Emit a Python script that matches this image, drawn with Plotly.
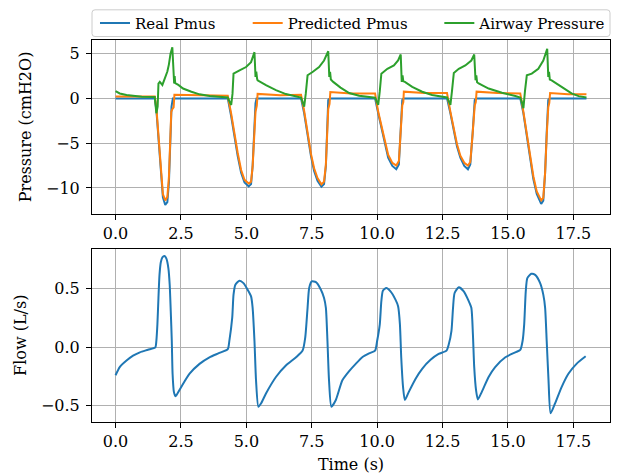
import plotly.graph_objects as go

# ---- Muscle pressure (Pmus) and airway pressure, cmH2O ----
t_real = [0.00, 1.50, 1.56, 1.62, 1.69, 1.75, 1.81, 1.90, 1.98, 2.04, 2.09, 2.14, 2.19,
          4.29, 4.42, 4.54, 4.67, 4.80, 4.93, 5.09, 5.18, 5.24, 5.30, 5.35, 5.39,
          7.09, 7.21, 7.34, 7.47, 7.59, 7.72, 7.87, 7.97, 8.04, 8.08, 8.13, 8.19,
          9.92, 10.04, 10.17, 10.30, 10.42, 10.58, 10.73, 10.83, 10.90, 10.96, 11.01,
          12.67, 12.80, 12.93, 13.05, 13.18, 13.33, 13.47, 13.56, 13.65, 13.73, 13.78,
          15.47, 15.59, 15.72, 15.85, 15.97, 16.10, 16.27, 16.35, 16.42, 16.48, 16.54, 16.59, 18.00]
real_pmus = [0.0, 0.0, -1.29, -3.87, -6.80, -9.20, -11.05, -11.90, -11.60, -9.40, -4.97, -0.92, 0.0,
             0.0, -2.00, -4.20, -6.45, -8.30, -9.40, -9.83, -9.58, -7.55, -3.87, -0.55, 0.0,
             0.0, -1.66, -4.24, -6.45, -8.10, -9.20, -9.87, -9.58, -7.55, -3.87, -0.18, 0.0,
             0.0, -1.66, -3.50, -5.34, -6.63, -7.55, -7.92, -7.37, -3.87, -0.18, 0.0,
             0.0, -1.66, -3.50, -5.34, -6.63, -7.55, -7.92, -7.37, -3.87, -0.18, 0.0,
             0.0, -1.66, -4.24, -6.80, -9.02, -10.68, -11.79, -11.42, -8.29, -3.87, -0.18, 0.0, 0.0]

t_pred = [0.00, 0.60, 1.10, 1.50, 1.56, 1.62, 1.69, 1.75, 1.81, 1.90, 1.98, 2.04, 2.09, 2.13, 2.17, 2.22, 2.25, 3.20,
          4.29, 4.42, 4.54, 4.67, 4.80, 4.93, 5.09, 5.18, 5.24, 5.30, 5.35, 5.40, 5.43, 6.30,
          7.09, 7.21, 7.34, 7.47, 7.59, 7.72, 7.87, 7.97, 8.04, 8.08, 8.13, 8.18, 8.21, 9.00,
          9.92, 10.04, 10.17, 10.30, 10.42, 10.58, 10.73, 10.83, 10.90, 10.96, 11.00, 11.02, 11.80,
          12.67, 12.80, 12.93, 13.05, 13.18, 13.33, 13.47, 13.56, 13.65, 13.73, 13.77, 13.80, 14.60,
          15.47, 15.59, 15.72, 15.85, 15.97, 16.10, 16.27, 16.35, 16.42, 16.48, 16.54, 16.58, 16.61, 17.30, 18.00]
pred_pmus = [0.20, 0.18, 0.22, 0.20, -1.00, -3.60, -6.60, -9.00, -10.70, -11.40, -11.00, -8.80, -4.60, -1.50, -1.20, -1.00, 0.40, 0.35,
             0.30, -1.70, -3.90, -6.10, -8.00, -9.10, -9.50, -9.30, -7.60, -4.20, -1.50, -0.80, 0.50, 0.35,
             0.40, -1.40, -4.00, -6.20, -7.80, -8.90, -9.60, -9.30, -7.40, -4.00, -1.20, -0.60, 0.70, 0.55,
             0.55, -1.50, -3.20, -5.00, -6.30, -7.20, -7.50, -7.00, -3.90, -0.80, -0.40, 0.75, 0.60,
             0.60, -1.50, -3.30, -5.10, -6.40, -7.20, -7.50, -7.10, -3.90, -0.80, -0.40, 0.75, 0.60,
             0.55, -1.50, -4.00, -6.50, -8.70, -10.40, -11.40, -11.10, -8.30, -4.20, -1.00, -0.50, 0.60, 0.45, 0.45]

t_paw = [0.00, 0.16, 0.42, 0.66, 1.00, 1.50, 1.53, 1.56, 1.61, 1.64, 1.69, 1.79, 1.88, 1.98, 2.04, 2.10, 2.17,
         2.21, 2.24, 2.26, 2.28, 2.40, 2.58, 2.90, 3.21, 3.60, 4.00, 4.29,
         4.35, 4.42, 4.47, 4.51, 4.74, 4.99, 5.18, 5.27, 5.31, 5.35, 5.38, 5.41, 5.43, 5.75, 6.13, 6.51, 6.90, 7.09,
         7.15, 7.21, 7.27, 7.34, 7.53, 7.78, 7.97, 8.08, 8.13, 8.17, 8.20, 8.23, 8.32, 8.60, 8.93, 9.31, 9.69, 9.92,
         9.98, 10.04, 10.10, 10.16, 10.39, 10.64, 10.80, 10.90, 10.94, 10.97, 11.00, 11.06, 11.34, 11.72, 12.10, 12.48, 12.67,
         12.74, 12.80, 12.86, 12.93, 13.12, 13.37, 13.60, 13.71, 13.76, 13.79, 13.82, 13.88, 14.26, 14.77, 15.28, 15.47,
         15.53, 15.59, 15.65, 15.72, 15.91, 16.16, 16.35, 16.46, 16.50, 16.54, 16.57, 16.60, 16.67, 17.05, 17.43, 17.70, 18.00]
airway_pressure = [0.81, 0.55, 0.37, 0.26, 0.18, 0.15, -0.50, -1.66, -0.90, 1.66, 1.84, 1.50, 2.20, 3.00, 3.80, 4.97, 5.71,
                   2.40, 1.66, 2.50, 1.70, 1.50, 1.10, 0.74, 0.45, 0.26, 0.13, 0.10,
                   -0.30, -0.74, 0.50, 2.76, 3.13, 3.50, 4.05, 4.80, 5.16, 2.40, 3.00, 2.20, 2.02, 1.47, 0.92, 0.48, 0.18, 0.10,
                   -0.40, -0.92, 0.50, 2.58, 2.95, 3.50, 4.23, 4.97, 5.27, 2.40, 2.95, 2.10, 1.84, 1.20, 0.60, 0.29, 0.11, 0.07,
                   -0.30, -0.74, 0.80, 2.76, 3.31, 3.68, 4.23, 4.90, 1.84, 2.58, 1.90, 1.84, 1.29, 0.74, 0.37, 0.18, 0.10,
                   -0.30, -0.74, 0.80, 2.84, 3.31, 3.68, 4.23, 4.90, 2.02, 2.58, 1.80, 1.66, 1.10, 0.63, 0.26, 0.10,
                   -0.40, -1.10, 0.80, 2.58, 2.76, 3.31, 4.23, 5.16, 5.53, 2.40, 2.95, 2.10, 2.02, 1.29, 0.55, 0.25, 0.11]

# ---- Flow, L/s ----
t_flow = [0.00, 0.16, 0.42, 0.67, 0.93, 1.24, 1.52, 1.56, 1.60, 1.64, 1.68, 1.73, 1.79, 1.87, 1.94, 2.02, 2.07,
          2.11, 2.15, 2.18, 2.23, 2.29, 2.35, 2.51, 2.83, 3.21, 3.59, 3.97, 4.29,
          4.35, 4.46, 4.51, 4.58, 4.74, 4.89, 5.05, 5.18, 5.24, 5.31, 5.37, 5.46, 5.56, 5.75, 6.13, 6.51, 6.90, 7.15,
          7.25, 7.34, 7.40, 7.50, 7.66, 7.85, 7.97, 8.04, 8.10, 8.16, 8.25, 8.42, 8.67, 8.93, 9.18, 9.43, 9.69, 9.92,
          10.00, 10.10, 10.16, 10.22, 10.35, 10.51, 10.70, 10.80, 10.87, 10.92, 10.99, 11.06, 11.21, 11.47, 11.72, 12.04, 12.35, 12.65,
          12.74, 12.84, 12.90, 12.96, 13.12, 13.31, 13.50, 13.60, 13.66, 13.71, 13.78, 13.85, 14.00, 14.26, 14.51, 14.90, 15.28, 15.47,
          15.56, 15.62, 15.68, 15.74, 15.89, 16.04, 16.23, 16.35, 16.42, 16.48, 16.55, 16.63, 16.80, 17.05, 17.31, 17.62, 17.97]
flow = [-0.240, -0.170, -0.115, -0.073, -0.045, -0.023, -0.003, 0.053, 0.193, 0.417, 0.613, 0.720, 0.762, 0.773, 0.753, 0.669, 0.529,
        0.305, 0.053, -0.227, -0.381, -0.418, -0.401, -0.340, -0.227, -0.143, -0.087, -0.050, -0.017,
        0.053, 0.250, 0.445, 0.530, 0.563, 0.543, 0.487, 0.430, 0.333, 0.053, -0.283, -0.507, -0.480, -0.395, -0.255, -0.157, -0.087, -0.030,
        0.080, 0.333, 0.500, 0.557, 0.551, 0.487, 0.417, 0.333, 0.053, -0.283, -0.507, -0.450, -0.283, -0.205, -0.143, -0.087, -0.054, -0.031,
        0.053, 0.193, 0.390, 0.479, 0.501, 0.473, 0.403, 0.347, 0.193, -0.087, -0.340, -0.451, -0.381, -0.269, -0.185, -0.109, -0.059, -0.031,
        0.025, 0.137, 0.333, 0.459, 0.507, 0.473, 0.390, 0.333, 0.109, -0.171, -0.367, -0.445, -0.381, -0.255, -0.171, -0.087, -0.045, -0.025,
        0.053, 0.193, 0.473, 0.585, 0.622, 0.613, 0.543, 0.445, 0.333, 0.053, -0.283, -0.563, -0.479, -0.340, -0.227, -0.143, -0.079]

x_ticks = [0.0, 2.5, 5.0, 7.5, 10.0, 12.5, 15.0, 17.5]

BLUE, ORANGE, GREEN = "#1f77b4", "#ff7f0e", "#2ca02c"
FONT = "DejaVu Serif"
FS = 16
LFS = 15
W, H = 618, 476
ML, MR, MT, MB = 92, 7, 36, 54
PW, PH = W - ML - MR, H - MT - MB


def px_x(p):
    return (p - ML) / PW


def px_y(p):
    return (H - MB - p) / PH


fig = go.Figure()
fig.add_trace(go.Scatter(x=t_real, y=real_pmus, mode="lines", name="Real Pmus",
                         line=dict(color=BLUE, width=2), xaxis="x", yaxis="y", legend="legend"))
fig.add_trace(go.Scatter(x=t_pred, y=pred_pmus, mode="lines", name="Predicted Pmus",
                         line=dict(color=ORANGE, width=2), xaxis="x", yaxis="y", legend="legend2"))
fig.add_trace(go.Scatter(x=t_paw, y=airway_pressure, mode="lines", name="Airway Pressure",
                         line=dict(color=GREEN, width=2), xaxis="x", yaxis="y", legend="legend3"))
fig.add_trace(go.Scatter(x=t_flow, y=flow, mode="lines", name="Flow", showlegend=False,
                         line=dict(color=BLUE, width=2, shape="spline", smoothing=0.6),
                         xaxis="x2", yaxis="y2"))

axis_style = dict(showline=True, mirror=True, linecolor="black", linewidth=1,
                  ticks="outside", ticklen=5, tickwidth=1, tickcolor="black",
                  showgrid=True, gridcolor="#b0b0b0", gridwidth=1, zeroline=False,
                  tickfont=dict(family=FONT, size=FS, color="black"))

top_dom = [px_y(211.7), 1.0]
bot_dom = [0.0, px_y(246.7)]

fig.update_layout(
    width=W, height=H,
    margin=dict(l=ML, r=MR, t=MT, b=MB),
    paper_bgcolor="white", plot_bgcolor="white",
    font=dict(family=FONT, size=FS, color="black"),
    xaxis=dict(domain=[0, 1], anchor="y", range=[-0.9, 18.9], tickvals=x_ticks,
               tickformat=".1f", ticklabelstandoff=0, **axis_style),
    yaxis=dict(domain=top_dom, anchor="x", range=[-12.9, 6.52], dtick=5, ticklabelstandoff=3,
               title=dict(text="Pressure (cmH2O)", font=dict(family=FONT, size=FS), standoff=10),
               **axis_style),
    xaxis2=dict(domain=[0, 1], anchor="y2", range=[-0.9, 18.9], tickvals=x_ticks,
                tickformat=".1f", ticklabelstandoff=0,
                title=dict(text="Time (s)", font=dict(family=FONT, size=FS), standoff=8),
                **axis_style),
    yaxis2=dict(domain=bot_dom, anchor="x2", range=[-0.637, 0.837], dtick=0.5, tickformat=".1f",
                ticklabelstandoff=3,
                title=dict(text="Flow (L/s)", font=dict(family=FONT, size=FS), standoff=10),
                **axis_style),
    showlegend=True,
)

legend_common = dict(orientation="h", yanchor="middle", xanchor="left",
                     bgcolor="rgba(0,0,0,0)", borderwidth=0,
                     font=dict(family=FONT, size=LFS, color="black"))
ly = px_y(19)
fig.update_layout(
    legend=dict(x=px_x(95), y=ly, **legend_common),
    legend2=dict(x=px_x(248), y=ly, **legend_common),
    legend3=dict(x=px_x(440), y=ly, **legend_common),
)

# rounded legend frame spanning the top axes width
x0, x1 = 0.0, 1.0
y0, y1 = px_y(32.5), px_y(5.5)
rx, ry = 3 / PW, 3 / PH
frame = (f"M{x0 + rx},{y0} L{x1 - rx},{y0} Q{x1},{y0} {x1},{y0 + ry} "
         f"L{x1},{y1 - ry} Q{x1},{y1} {x1 - rx},{y1} L{x0 + rx},{y1} "
         f"Q{x0},{y1} {x0},{y1 - ry} L{x0},{y0 + ry} Q{x0},{y0} {x0 + rx},{y0} Z")
fig.add_shape(type="path", path=frame, xref="paper", yref="paper",
              line=dict(color="#cccccc", width=1), fillcolor="rgba(255,255,255,0.8)", layer="below")

fig.write_html("out.html", config={"displayModeBar": False})
